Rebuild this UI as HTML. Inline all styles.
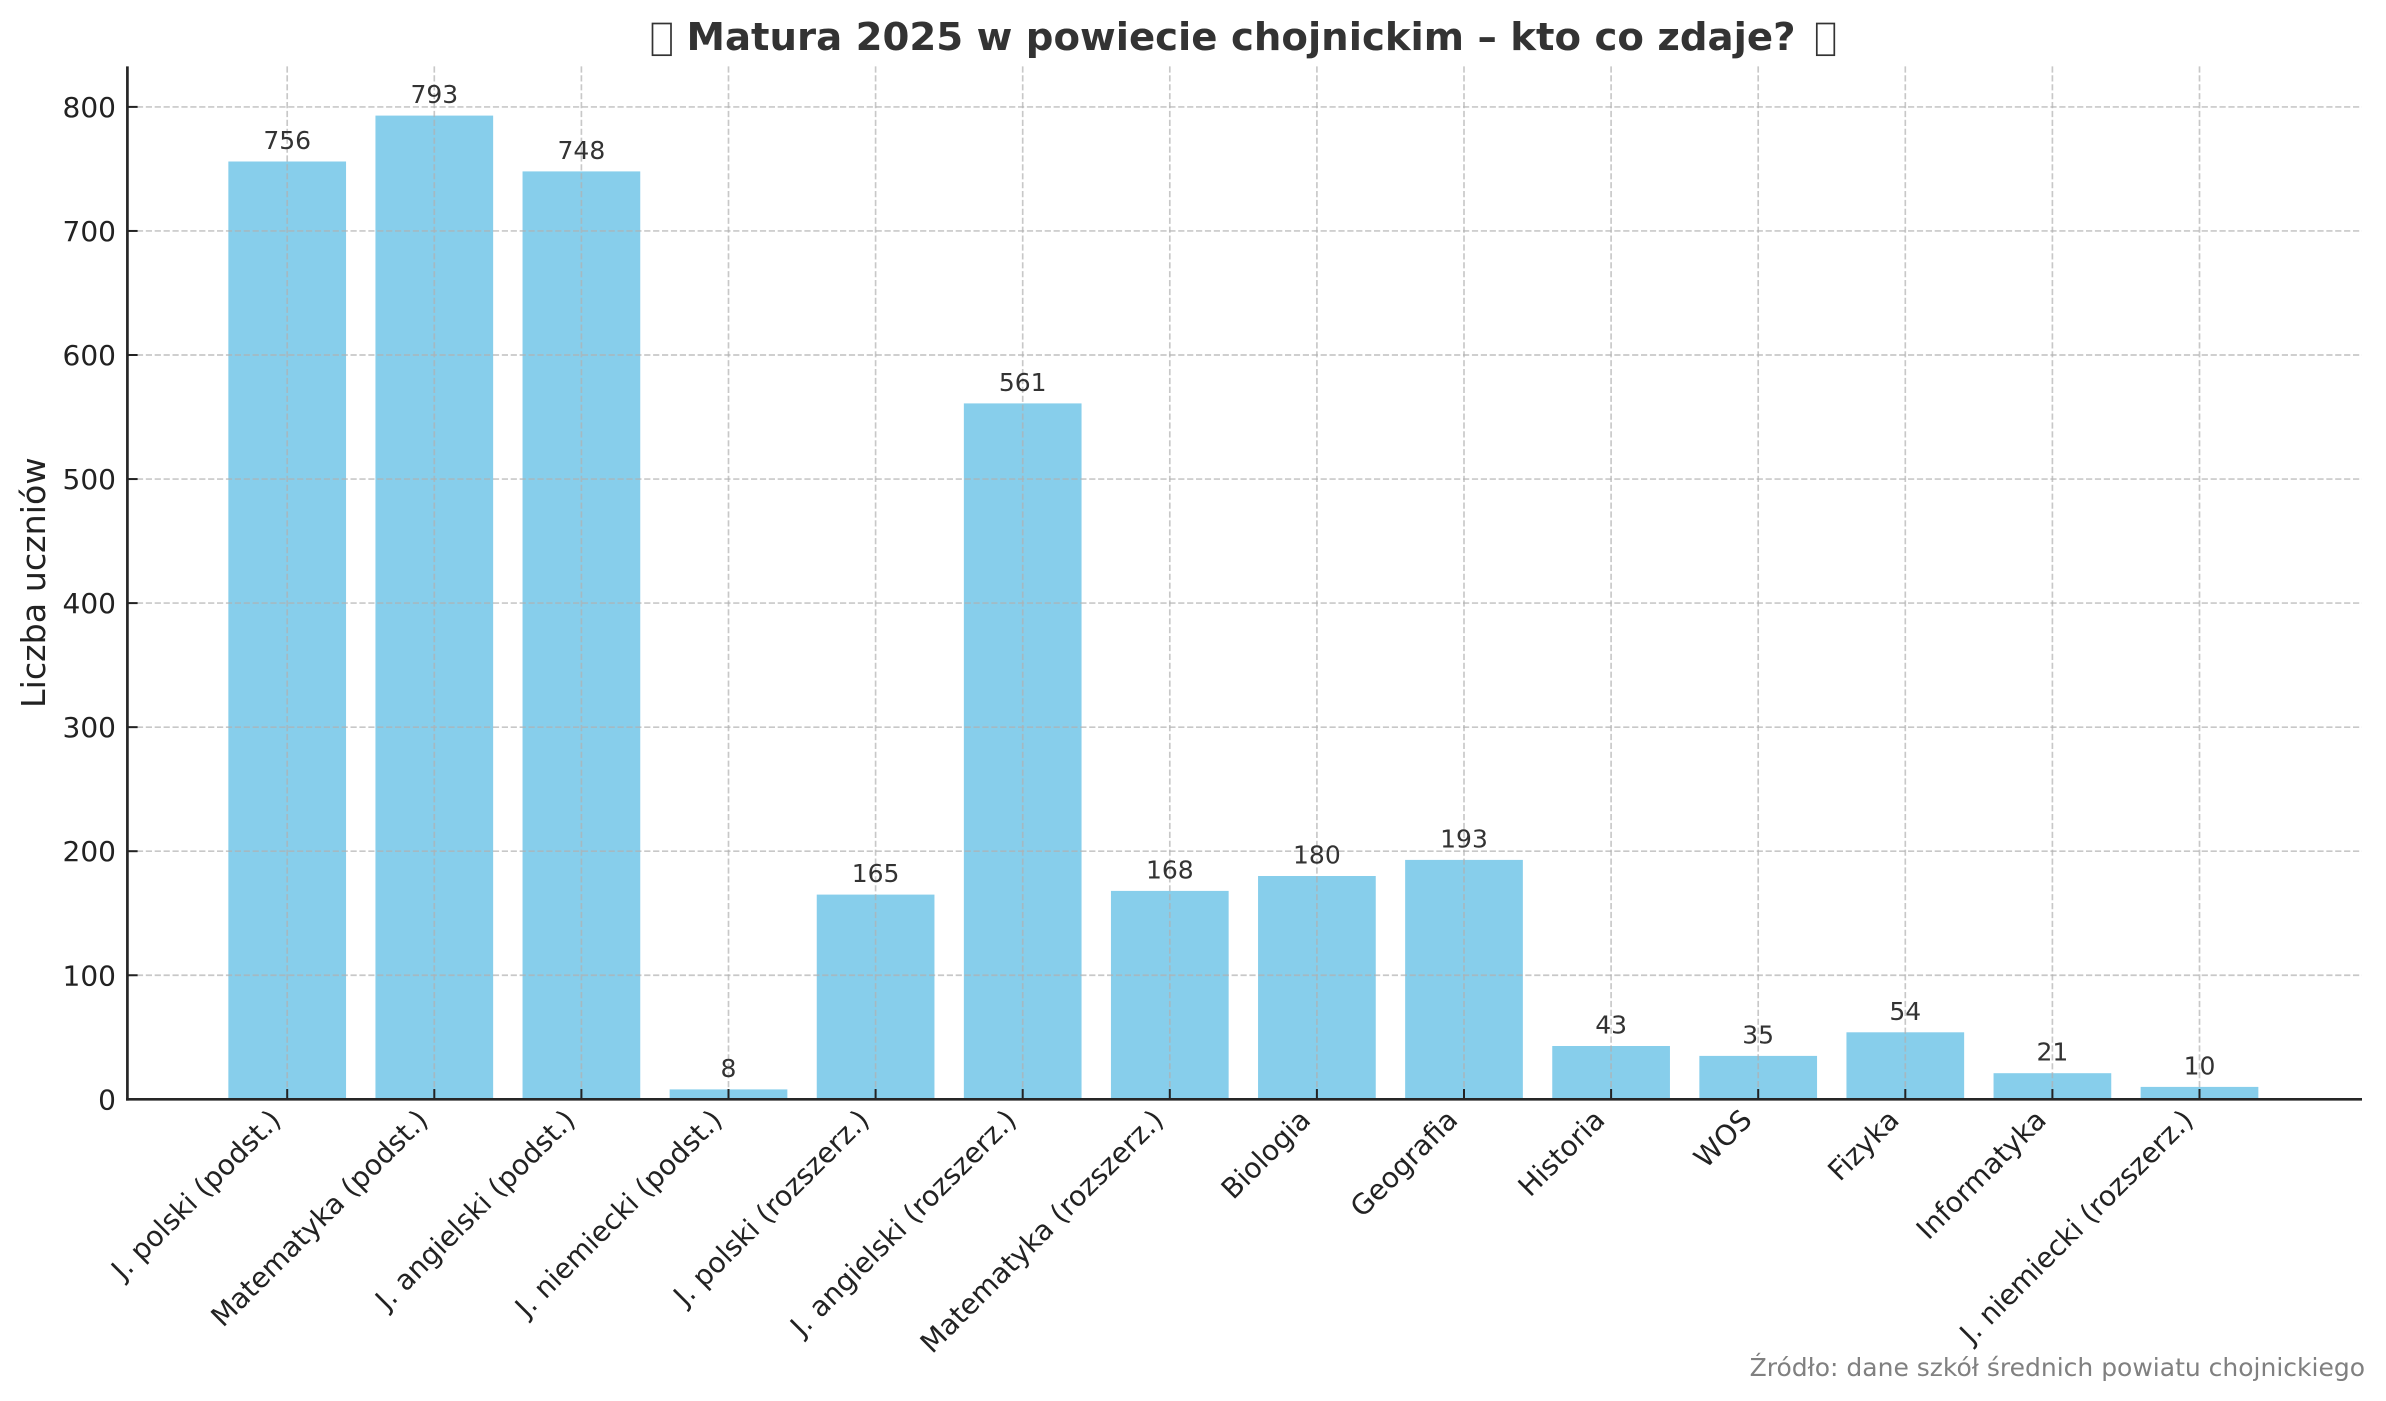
<!DOCTYPE html>
<html><head><meta charset="utf-8"><style>
html,body{margin:0;padding:0;background:#fff;}
svg{display:block;}
text{font-family:"DejaVu Sans","Liberation Sans",sans-serif;}
</style></head><body>
<svg width="2386" height="1401" viewBox="0 0 2386 1401" xmlns="http://www.w3.org/2000/svg">
<rect x="0" y="0" width="2386" height="1401" fill="#fff"/>
<!-- bars -->
<g fill="#87CEEB">
<rect x="228.35" y="161.5" width="117.7" height="937.8"/>
<rect x="375.45" y="115.6" width="117.7" height="983.7"/>
<rect x="522.55" y="171.4" width="117.7" height="927.9"/>
<rect x="669.65" y="1089.4" width="117.7" height="9.9"/>
<rect x="816.75" y="894.6" width="117.7" height="204.7"/>
<rect x="963.85" y="403.4" width="117.7" height="695.9"/>
<rect x="1110.95" y="890.9" width="117.7" height="208.4"/>
<rect x="1258.05" y="876.0" width="117.7" height="223.3"/>
<rect x="1405.15" y="859.9" width="117.7" height="239.4"/>
<rect x="1552.25" y="1046.0" width="117.7" height="53.3"/>
<rect x="1699.35" y="1055.9" width="117.7" height="43.4"/>
<rect x="1846.45" y="1032.3" width="117.7" height="67.0"/>
<rect x="1993.55" y="1073.2" width="117.7" height="26.1"/>
<rect x="2140.65" y="1086.9" width="117.7" height="12.4"/>
</g>
<!-- grid -->
<g stroke="#b0b0b0" stroke-opacity="0.7" stroke-width="1.67" stroke-dasharray="6.2 2.7" fill="none">
<line x1="128" y1="975.25" x2="2362" y2="975.25"/>
<line x1="128" y1="851.2" x2="2362" y2="851.2"/>
<line x1="128" y1="727.15" x2="2362" y2="727.15"/>
<line x1="128" y1="603.1" x2="2362" y2="603.1"/>
<line x1="128" y1="479.05" x2="2362" y2="479.05"/>
<line x1="128" y1="355.0" x2="2362" y2="355.0"/>
<line x1="128" y1="230.95" x2="2362" y2="230.95"/>
<line x1="128" y1="106.9" x2="2362" y2="106.9"/>
<line x1="287.2" y1="66.4" x2="287.2" y2="1099.3"/>
<line x1="434.3" y1="66.4" x2="434.3" y2="1099.3"/>
<line x1="581.4" y1="66.4" x2="581.4" y2="1099.3"/>
<line x1="728.5" y1="66.4" x2="728.5" y2="1099.3"/>
<line x1="875.6" y1="66.4" x2="875.6" y2="1099.3"/>
<line x1="1022.7" y1="66.4" x2="1022.7" y2="1099.3"/>
<line x1="1169.8" y1="66.4" x2="1169.8" y2="1099.3"/>
<line x1="1316.9" y1="66.4" x2="1316.9" y2="1099.3"/>
<line x1="1464.0" y1="66.4" x2="1464.0" y2="1099.3"/>
<line x1="1611.1" y1="66.4" x2="1611.1" y2="1099.3"/>
<line x1="1758.2" y1="66.4" x2="1758.2" y2="1099.3"/>
<line x1="1905.3" y1="66.4" x2="1905.3" y2="1099.3"/>
<line x1="2052.4" y1="66.4" x2="2052.4" y2="1099.3"/>
<line x1="2199.5" y1="66.4" x2="2199.5" y2="1099.3"/>
</g>
<!-- ticks (inward) -->
<g stroke="#222" stroke-width="2">
<line x1="127.4" y1="1099.3" x2="137.6" y2="1099.3"/>
<line x1="127.4" y1="975.25" x2="137.6" y2="975.25"/>
<line x1="127.4" y1="851.2" x2="137.6" y2="851.2"/>
<line x1="127.4" y1="727.15" x2="137.6" y2="727.15"/>
<line x1="127.4" y1="603.1" x2="137.6" y2="603.1"/>
<line x1="127.4" y1="479.05" x2="137.6" y2="479.05"/>
<line x1="127.4" y1="355.0" x2="137.6" y2="355.0"/>
<line x1="127.4" y1="230.95" x2="137.6" y2="230.95"/>
<line x1="127.4" y1="106.9" x2="137.6" y2="106.9"/>
<line x1="287.2" y1="1089" x2="287.2" y2="1099.3"/>
<line x1="434.3" y1="1089" x2="434.3" y2="1099.3"/>
<line x1="581.4" y1="1089" x2="581.4" y2="1099.3"/>
<line x1="728.5" y1="1089" x2="728.5" y2="1099.3"/>
<line x1="875.6" y1="1089" x2="875.6" y2="1099.3"/>
<line x1="1022.7" y1="1089" x2="1022.7" y2="1099.3"/>
<line x1="1169.8" y1="1089" x2="1169.8" y2="1099.3"/>
<line x1="1316.9" y1="1089" x2="1316.9" y2="1099.3"/>
<line x1="1464.0" y1="1089" x2="1464.0" y2="1099.3"/>
<line x1="1611.1" y1="1089" x2="1611.1" y2="1099.3"/>
<line x1="1758.2" y1="1089" x2="1758.2" y2="1099.3"/>
<line x1="1905.3" y1="1089" x2="1905.3" y2="1099.3"/>
<line x1="2052.4" y1="1089" x2="2052.4" y2="1099.3"/>
<line x1="2199.5" y1="1089" x2="2199.5" y2="1099.3"/>
</g>
<!-- spines -->
<g stroke="#262626" stroke-width="2.7" fill="none">
<line x1="127.4" y1="66.4" x2="127.4" y2="1100.6"/>
<line x1="126" y1="1099.3" x2="2362" y2="1099.3"/>
</g>
<!-- y tick labels -->
<g font-size="28" fill="#222" text-anchor="end">
<text x="116" y="1109.3">0</text>
<text x="116" y="985.25">100</text>
<text x="116" y="861.2">200</text>
<text x="116" y="737.15">300</text>
<text x="116" y="613.1">400</text>
<text x="116" y="489.05">500</text>
<text x="116" y="365.0">600</text>
<text x="116" y="240.95">700</text>
<text x="116" y="116.9">800</text>
</g>
<!-- x tick labels -->
<g font-size="28" fill="#222" text-anchor="end">
<text transform="translate(282.5,1121.6) rotate(-45)">J. polski (podst.)</text>
<text transform="translate(429.6,1121.6) rotate(-45)">Matematyka (podst.)</text>
<text transform="translate(576.7,1121.6) rotate(-45)">J. angielski (podst.)</text>
<text transform="translate(723.8,1121.6) rotate(-45)">J. niemiecki (podst.)</text>
<text transform="translate(870.9,1121.6) rotate(-45)">J. polski (rozszerz.)</text>
<text transform="translate(1018.0,1121.6) rotate(-45)">J. angielski (rozszerz.)</text>
<text transform="translate(1165.1,1121.6) rotate(-45)">Matematyka (rozszerz.)</text>
<text transform="translate(1312.2,1121.6) rotate(-45)">Biologia</text>
<text transform="translate(1459.3,1121.6) rotate(-45)">Geografia</text>
<text transform="translate(1606.4,1121.6) rotate(-45)">Historia</text>
<text transform="translate(1753.5,1121.6) rotate(-45)">WOS</text>
<text transform="translate(1900.6,1121.6) rotate(-45)">Fizyka</text>
<text transform="translate(2047.7,1121.6) rotate(-45)">Informatyka</text>
<text transform="translate(2194.8,1121.6) rotate(-45)">J. niemiecki (rozszerz.)</text>
</g>
<!-- value labels -->
<g font-size="25" fill="#333" text-anchor="middle">
<text x="287.2" y="149.0">756</text>
<text x="434.3" y="103.1">793</text>
<text x="581.4" y="158.9">748</text>
<text x="728.5" y="1076.9">8</text>
<text x="875.6" y="882.1">165</text>
<text x="1022.7" y="390.9">561</text>
<text x="1169.8" y="878.4">168</text>
<text x="1316.9" y="863.5">180</text>
<text x="1464.0" y="847.4">193</text>
<text x="1611.1" y="1033.5">43</text>
<text x="1758.2" y="1043.4">35</text>
<text x="1905.3" y="1019.8">54</text>
<text x="2052.4" y="1060.7">21</text>
<text x="2199.5" y="1074.4">10</text>
</g>
<!-- y axis label -->
<text transform="translate(45,582.7) rotate(-90)" font-size="33.3" fill="#222" text-anchor="middle">Liczba uczniów</text>
<!-- title -->
<rect x="652.5" y="23.5" width="18.5" height="31.7" fill="none" stroke="#333" stroke-width="1.7"/>
<text x="686.5" y="50" font-size="38.5" font-weight="bold" fill="#333" textLength="1109" lengthAdjust="spacingAndGlyphs">Matura 2025 w powiecie chojnickim – kto co zdaje?</text>
<rect x="1816.8" y="23.5" width="17.5" height="31.7" fill="none" stroke="#333" stroke-width="1.7"/>
<!-- source -->
<text x="2365" y="1376" font-size="25" fill="#808080" text-anchor="end">Źródło: dane szkół średnich powiatu chojnickiego</text>
</svg>
</body></html>
